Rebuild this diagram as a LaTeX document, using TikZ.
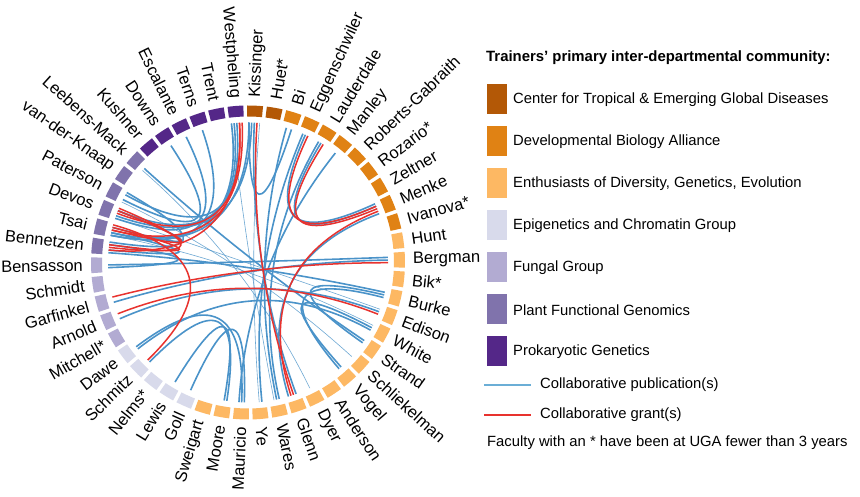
\documentclass[tikz,border=0pt]{standalone}
\usepackage{fontspec}
\setmainfont{Liberation Sans}
\usetikzlibrary{calc}
\definecolor{cTrop}{HTML}{B35806}
\definecolor{cDev}{HTML}{E08214}
\definecolor{cEnth}{HTML}{FDB863}
\definecolor{cEpi}{HTML}{D8DAEB}
\definecolor{cFun}{HTML}{B2ABD2}
\definecolor{cPlant}{HTML}{8073AC}
\definecolor{cProk}{HTML}{542788}
\definecolor{pubblue}{HTML}{4A93C9}
\definecolor{legblue}{HTML}{6BAED6}
\definecolor{grantred}{HTML}{E8322E}
\newcommand\chd[3]{\draw[#3] (#1) .. controls ($(#1)!0.6667!(C)$) and ($(#2)!0.6667!(C)$) .. (#2);}
\begin{document}
\begin{tikzpicture}[x=1pt,y=1pt,
  pub/.style={draw=pubblue,line width=1.6pt},
  pubthin/.style={draw=pubblue,line width=0.6pt,opacity=0.8},
  grant/.style={draw=grantred,line width=1.5pt},
  lab/.style={font=\fontsize{16.5}{18}\selectfont,inner sep=0pt},
  legtext/.style={font=\fontsize{14.8}{17}\selectfont,anchor=west,inner sep=0pt},
  legsq/.style={minimum width=20pt,minimum height=30pt,inner sep=0pt,anchor=west}]
\useasboundingbox (0,0) rectangle (860,497);
\fill[white] (0,0) rectangle (860,497);
\coordinate (C) at (248,234.5);
\foreach \i/\nm/\col in {1/Kissinger/cTrop,2/Huet*/cTrop,3/Bi/cDev,4/Eggenschwiler/cDev,5/Lauderdale/cDev,6/Manley/cDev,7/Roberts-Gabraith/cDev,8/Rozario*/cDev,9/Zeltner/cDev,10/Menke/cDev,11/Ivanova*/cDev,12/Hunt/cEnth,13/Bergman/cEnth,14/Bik*/cEnth,15/Burke/cEnth,16/Edison/cEnth,17/White/cEnth,18/Strand/cEnth,19/Schliekelman/cEnth,20/Vogel/cEnth,21/Anderson/cEnth,22/Dyer/cEnth,23/Glenn/cEnth,24/Wares/cEnth,25/Ye/cEnth,26/Mauricio/cEnth,27/Moore/cEnth,28/Sweigart/cEnth,29/Goll/cEpi,30/Lewis/cEpi,31/Nelms*/cEpi,32/Schmitz/cEpi,33/Dawe/cEpi,34/Mitchell*/cFun,35/Arnold/cFun,36/Garfinkel/cFun,37/Schmidt/cFun,38/Bensasson/cFun,39/Bennetzen/cPlant,40/Tsai/cPlant,41/Devos/cPlant,42/Paterson/cPlant,43/van-der-Knaap/cPlant,44/Leebens-Mack/cPlant,45/Kushner/cProk,46/Downs/cProk,47/Escalante/cProk,48/Terns/cProk,49/Trent/cProk,50/Westpheling/cProk}{
  \pgfmathsetmacro\a{87.4-7.2*(\i-1)}
  \fill[\col] ($(C)+({\a-2.9}:146)$) arc[start angle=\a-2.9,end angle=\a+2.9,radius=146]
     -- ($(C)+({\a+2.9}:157)$) arc[start angle=\a+2.9,end angle=\a-2.9,radius=157] -- cycle;
  \ifnum\i<26
    \node[lab,anchor=west,rotate=\a] (lab\i) at ($(C)+(\a:165)$) {\nm};
  \else
    \node[lab,anchor=east,rotate=\a+180] (lab\i) at ($(C)+(\a:165)$) {\nm};
  \fi
  \foreach \k in {1,...,5}{
    \coordinate (p\i-\k) at ($(C)+({\a+(\k-3)*1.1}:140)$);
  }
}
% thin background links
\chd{p40-5}{p17-4}{pubthin}
\chd{p42-5}{p19-3}{pubthin}
\chd{p50-5}{p24-2}{pubthin}
\chd{p1-1}{p25-3}{pubthin}
\chd{p44-4}{p22-3}{pubthin}
\chd{p41-5}{p16-4}{pubthin}
% blue links
\chd{p50-4}{p41-2}{pub}
\chd{p50-5}{p40-4}{pub}
\chd{p50-3}{p42-2}{pub}
\chd{p1-3}{p23-4}{pub}
\chd{p1-4}{p41-4}{pub}
\chd{p1-5}{p40-5}{pub}
\chd{p1-5}{p3-2}{pub}
\chd{p3-4}{p24-3}{pub}
\chd{p4-4}{p25-4}{pub}
\chd{p5-4}{p24-4}{pub}
\chd{p6-3}{p26-2}{pub}
\chd{p4-3}{p10-5}{pub}
\chd{p5-3}{p10-4}{pub}
\chd{p23-1}{p10-1}{pub}
\chd{p38-3}{p13-4}{pub}
\chd{p38-4}{p39-2}{pub}
\chd{p36-4}{p13-3}{pub}
\chd{p35-4}{p16-3}{pub}
\chd{p33-3}{p26-3}{pub}
\chd{p32-4}{p27-4}{pub}
\chd{p30-3}{p27-3}{pub}
\chd{p29-3}{p26-4}{pub}
\chd{p33-4}{p17-2}{pub}
\chd{p15-3}{p18-3}{pub}
\chd{p15-2}{p20-3}{pub}
\chd{p17-3}{p20-4}{pub}
\chd{p18-4}{p44-3}{pub}
\chd{p48-3}{p40-5}{pub}
\chd{p47-3}{p41-5}{pub}
\chd{p46-3}{p42-4}{pub}
\chd{p42-1}{p39-1}{pub}
\chd{p41-2}{p40-2}{pub}
\chd{p39-5}{p15-4}{pub}
\chd{p40-4}{p39-4}{pub}
% red links
\chd{p50-2}{p41-3}{grant}
\chd{p50-1}{p40-3}{grant}
\chd{p50-2}{p39-4}{grant}
\chd{p1-2}{p23-3}{grant}
\chd{p4-2}{p10-4}{grant}
\chd{p5-2}{p10-3}{grant}
\chd{p23-2}{p10-2}{grant}
\chd{p36-2}{p13-2}{grant}
\chd{p35-2}{p16-2}{grant}
\chd{p32-3}{p40-1}{grant}
\chd{p41-1}{p39-3}{grant}
\chd{p41-2}{p40-3}{grant}
\chd{p40-2}{p39-2}{grant}
% legend
\node[anchor=west,inner sep=0pt,font=\bfseries\fontsize{14.9}{17}\selectfont] (title) at (486,439) {Trainers’ primary inter-departmental community:};
\foreach \j/\col/\txt in {0/cTrop/Center for Tropical \& Emerging Global Diseases,1/cDev/Developmental Biology Alliance,2/cEnth/{Enthusiasts of Diversity, Genetics, Evolution},3/cEpi/Epigenetics and Chromatin Group,4/cFun/Fungal Group,5/cPlant/Plant Functional Genomics,6/cProk/Prokaryotic Genetics}{
  \node[legsq,fill=\col] (sq\j) at (487,{398-42*\j}) {};
  \node[legtext] (lt\j) at (513,{397-42*\j}) {\txt};
}
\coordinate (lb1) at (484,112); \coordinate (lb2) at (531,112);
\draw[draw=legblue,line width=1.2pt] (lb1) -- (lb2);
\node[legtext] (lpub) at (540,112) {Collaborative publication(s)};
\coordinate (lr1) at (484,82); \coordinate (lr2) at (531,82);
\draw[draw=grantred,line width=1.2pt] (lr1) -- (lr2);
\node[legtext] (lgr) at (540,82) {Collaborative grant(s)};
\node[legtext] (foot) at (487,54) {Faculty with an * have been at UGA fewer than 3 years};
\end{tikzpicture}
\end{document}
